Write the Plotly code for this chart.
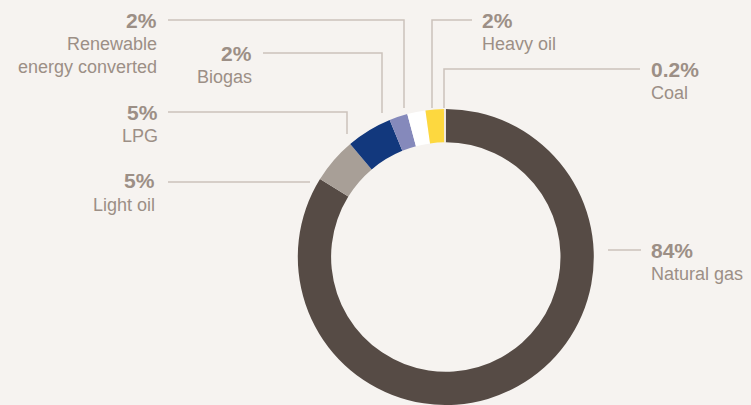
import plotly.graph_objects as go

W, H = 751, 405

# Données
sources = ["Natural gas", "Light oil", "LPG", "Biogas",
           "Renewable<br>energy converted", "Heavy oil", "Coal"]
shares = [84, 5, 5, 2, 2, 2, 0.2]
share_labels = ["84%", "5%", "5%", "2%", "2%", "2%", "0.2%"]
colors = ["#564b45", "#a89f97", "#12387d", "#8589bb", "#ffffff", "#fdd83f", "#efe9e4"]

BG = "#f6f3f0"
TXT = "#9c8f86"
LINE = "#cbc2bb"
FONT = "Liberation Sans, Arial, sans-serif"


def px(x, y):
    # pixels -> coordonnées paper
    return x / W, 1 - y / H


# placement des étiquettes (x, y du %, ancrage)
label_pos = {
    "Natural gas": (649, 250, "left"),
    "Light oil": (157, 181, "right"),
    "LPG": (160, 112, "right"),
    "Biogas": (254, 53, "right"),
    "Renewable<br>energy converted": (159, 20, "right"),
    "Heavy oil": (480, 20, "left"),
    "Coal": (649, 69, "left"),
}

# lignes de rappel (polylignes en pixels)
leaders = [
    [(608, 250), (641, 250)],
    [(168, 182), (310, 182)],
    [(168, 112), (347, 112), (347, 134)],
    [(263, 53), (382, 53), (382, 113)],
    [(168, 20), (404, 20), (404, 108)],
    [(432, 108), (432, 20), (472, 20)],
    [(444, 108), (444, 69), (640, 69)],
]

cx, cy, r = 445.8, 257, 148
fig = go.Figure(go.Pie(
    labels=sources, values=shares, sort=False, direction="clockwise",
    rotation=0, hole=0.775, textinfo="none", hoverinfo="label+percent",
    marker=dict(colors=colors, line=dict(width=0)),
    domain=dict(x=[(cx - r) / W, (cx + r) / W], y=[0, 2 * r / H]),
    showlegend=False,
))

annotations = []
for name, pct in zip(sources, share_labels):
    x, y, side = label_pos[name]
    ax, ay = px(x, y)
    annotations.append(dict(x=ax, y=ay, xref="paper", yref="paper", text="<b>%s</b>" % pct,
                            showarrow=False, xanchor=side, yanchor="middle",
                            font=dict(size=21, color=TXT, family=FONT)))
    bx, by = px(x, y + 12)
    annotations.append(dict(x=bx, y=by, xref="paper", yref="paper", text=name,
                            showarrow=False, xanchor=side, yanchor="top", align=side,
                            font=dict(size=18, color=TXT, family=FONT)))

shapes = []
for pts in leaders:
    path = ""
    for i, (x, y) in enumerate(pts):
        qx, qy = px(x, y)
        path += ("M" if i == 0 else "L") + " %f %f " % (qx, qy)
    shapes.append(dict(type="path", path=path, xref="paper", yref="paper",
                       line=dict(color=LINE, width=1.5)))

fig.update_layout(
    width=W, height=H, paper_bgcolor=BG, plot_bgcolor=BG,
    margin=dict(l=0, r=0, t=0, b=0),
    annotations=annotations, shapes=shapes,
)
fig.write_html("out.html", config={"displayModeBar": False}, post_script=(
    "document.body.style.margin='0';document.body.style.overflow='hidden';"
    "document.body.style.background='%s';" % BG))
